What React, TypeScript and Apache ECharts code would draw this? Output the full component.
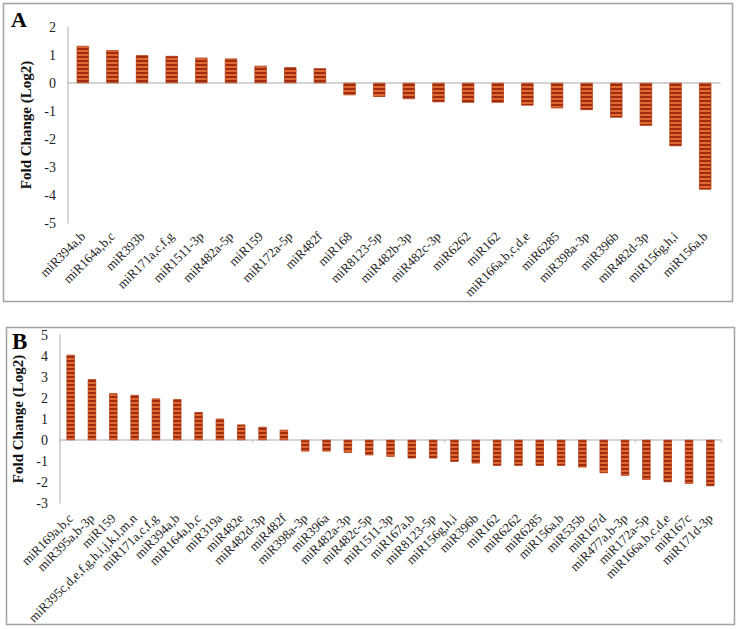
import React, { useEffect, useRef } from "react";
import * as echarts from "echarts";

const categoriesA = [
  "miR394a,b", "miR164a,b,c", "miR393b", "miR171a,c,f,g", "miR1511-3p", "miR482a-5p",
  "miR159", "miR172a-5p", "miR482f", "miR168", "miR8123-5p", "miR482b-3p",
  "miR482c-3p", "miR6262", "miR162", "miR166a,b,c,d,e", "miR6285", "miR398a-3p",
  "miR396b", "miR482d-3p", "miR156g,h,i", "miR156a,b",
];
const valuesA = [
  1.32, 1.17, 0.99, 0.96, 0.9, 0.87, 0.61, 0.56, 0.52, -0.43, -0.49, -0.57,
  -0.68, -0.7, -0.7, -0.8, -0.9, -0.96, -1.23, -1.52, -2.25, -3.8,
];

const categoriesB = [
  "miR169a,b,c", "miR395a,b-3p", "miR159", "miR395c,d,e,f,g,h,i,j,k,l,m,n", "miR171a,c,f,g",
  "miR394a,b", "miR164a,b,c", "miR319a", "miR482e", "miR482d-3p", "miR482f", "miR398a-3p",
  "miR396a", "miR482a-3p", "miR482c-5p", "miR1511-3p", "miR167a,b", "miR8123-5p",
  "miR156g,h,i", "miR396b", "miR162", "miR6262", "miR6285", "miR156a,b", "miR535b",
  "miR167d", "miR477a,b-3p", "miR172a-5p", "miR166a,b,c,d,e", "miR167c", "miR171d-3p",
];
const valuesB = [
  4.05, 2.89, 2.22, 2.14, 1.97, 1.94, 1.32, 1.01, 0.73, 0.62, 0.48, -0.54,
  -0.54, -0.6, -0.72, -0.79, -0.87, -0.87, -1.03, -1.11, -1.22, -1.22, -1.22, -1.22,
  -1.3, -1.57, -1.7, -1.89, -2.0, -2.08, -2.19,
];

const yRangeA = { min: -5, max: 2, interval: 1 };
const yRangeB = { min: -3, max: 5, interval: 1 };
const yAxisTitle = "Fold Change (Log2)";
const panelLabels = ["A", "B"];

const FONT = "'Liberation Serif', 'Times New Roman', serif";
const AXIS_GREY = "#c6c6c6";

export default function App() {
  const ref = useRef<HTMLDivElement>(null);

  useEffect(() => {
    if (!ref.current) return;
    const chart = echarts.init(ref.current, undefined, { renderer: "svg" });

    const decal = {
      symbol: "rect",
      symbolSize: 1,
      dashArrayX: [1, 0],
      dashArrayY: [1.6, 1.2],
      rotation: 0,
      color: "#9e2c0e",
    };

    const labelAxis = (grid: number, data: string[], margin: number) => ({
      type: "category",
      gridIndex: grid,
      data,
      position: "bottom",
      axisLine: { show: false, onZero: false },
      axisTick: { show: false },
      axisLabel: {
        interval: 0,
        rotate: 45,
        margin,
        fontSize: 13,
        fontFamily: FONT,
        color: "#1c1c1c",
      },
      splitLine: { show: false },
    });

    const zeroAxis = (grid: number, data: string[], ticks: boolean) => ({
      type: "category",
      gridIndex: grid,
      data,
      position: "bottom",
      axisLine: { show: true, onZero: true, lineStyle: { color: AXIS_GREY, width: 1.5 } },
      axisTick: { show: ticks, length: 3, lineStyle: { color: AXIS_GREY, width: 1 } },
      axisLabel: { show: false },
      splitLine: { show: false },
    });

    const valueAxis = (grid: number, r: { min: number; max: number; interval: number }, nameGap: number) => ({
      type: "value",
      gridIndex: grid,
      min: r.min,
      max: r.max,
      interval: r.interval,
      name: yAxisTitle,
      nameLocation: "middle",
      nameGap,
      nameTextStyle: { fontFamily: FONT, fontWeight: "bold", fontSize: 15, color: "#111" },
      axisLine: { show: true, lineStyle: { color: AXIS_GREY, width: 1.5 } },
      axisTick: { show: false },
      splitLine: { show: false },
      axisLabel: { fontSize: 14, fontFamily: FONT, color: "#222", margin: 12 },
    });

    const barSeries = (xi: number, yi: number, data: number[], width: number) => ({
      type: "bar",
      xAxisIndex: xi,
      yAxisIndex: yi,
      data,
      barWidth: width,
      itemStyle: {
        color: "#e26a32",
        borderColor: "#b3401a",
        borderWidth: 0.5,
        decal,
      },
    });

    chart.setOption({
      animation: false,
      backgroundColor: "#ffffff",
      grid: [
        { left: 68, top: 27, width: 652, height: 196 },
        { left: 60, top: 335, width: 661, height: 168 },
      ],
      xAxis: [
        labelAxis(0, categoriesA, 11),
        zeroAxis(0, categoriesA, false),
        labelAxis(1, categoriesB, 13),
        zeroAxis(1, categoriesB, true),
      ],
      yAxis: [valueAxis(0, yRangeA, 26), valueAxis(1, yRangeB, 22)],
      series: [barSeries(0, 0, valuesA, 12), barSeries(2, 1, valuesB, 8)],
      graphic: [
        {
          type: "rect",
          shape: { x: 3.5, y: 3.5, width: 729, height: 298 },
          style: { fill: "none", stroke: "#a3a3a3", lineWidth: 1.5 },
          silent: true,
        },
        {
          type: "rect",
          shape: { x: 6.5, y: 327.5, width: 728, height: 297 },
          style: { fill: "none", stroke: "#a3a3a3", lineWidth: 1.5 },
          silent: true,
        },
        {
          type: "text",
          x: 11,
          y: 8,
          style: { text: panelLabels[0], font: `bold 22px ${FONT}`, fill: "#000" },
        },
        {
          type: "text",
          x: 12,
          y: 330,
          style: { text: panelLabels[1], font: `bold 23px ${FONT}`, fill: "#000" },
        },
      ],
    });

    return () => chart.dispose();
  }, []);

  return (
    <div
      ref={ref}
      style={{ position: "fixed", left: 0, top: 0, width: 739, height: 629, background: "#fff" }}
    />
  );
}
